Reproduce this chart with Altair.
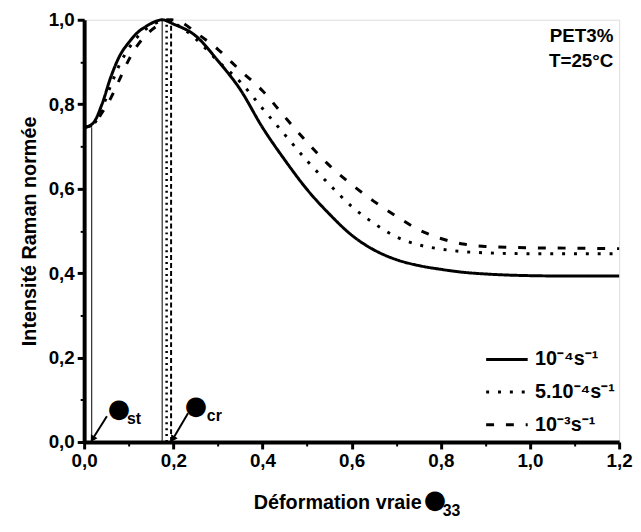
import altair as alt
import pandas as pd

FONT = "Liberation Sans"

# ---- data ----
series_names = ["10⁻⁴s⁻¹", "5.10⁻⁴s⁻¹", "10⁻³s⁻¹"]

s1_x = [0.0, 0.02, 0.04, 0.06, 0.08, 0.10, 0.12, 0.14, 0.16, 0.175, 0.20, 0.25, 0.30, 0.35, 0.40,
        0.45, 0.50, 0.55, 0.60, 0.65, 0.70, 0.75, 0.80, 0.85, 0.90, 1.0, 1.1, 1.2]
s1_y = [0.745, 0.755, 0.80, 0.865, 0.915, 0.946, 0.97, 0.985, 0.996, 1.0, 0.99, 0.962, 0.903, 0.835, 0.745,
        0.668, 0.598, 0.54, 0.49, 0.455, 0.432, 0.418, 0.409, 0.402, 0.398, 0.394, 0.393, 0.393]

s2_x = [0.0, 0.02, 0.04, 0.06, 0.08, 0.10, 0.12, 0.14, 0.16, 0.185, 0.21, 0.25, 0.30, 0.35, 0.40,
        0.45, 0.50, 0.55, 0.60, 0.65, 0.70, 0.75, 0.80, 0.85, 0.90, 1.0, 1.1, 1.2]
s2_y = [0.745, 0.752, 0.79, 0.845, 0.895, 0.932, 0.96, 0.979, 0.992, 1.0, 0.987, 0.955, 0.902, 0.853, 0.79,
        0.728, 0.666, 0.61, 0.558, 0.518, 0.486, 0.467, 0.457, 0.451, 0.448, 0.446, 0.446, 0.446]

s3_x = [0.0, 0.02, 0.04, 0.06, 0.08, 0.10, 0.12, 0.14, 0.16, 0.195, 0.22, 0.25, 0.30, 0.35, 0.40,
        0.45, 0.50, 0.55, 0.60, 0.65, 0.70, 0.75, 0.80, 0.85, 0.90, 1.0, 1.1, 1.2]
s3_y = [0.745, 0.751, 0.78, 0.815, 0.86, 0.905, 0.94, 0.965, 0.983, 1.0, 0.993, 0.97, 0.93, 0.88, 0.832,
        0.77, 0.71, 0.655, 0.61, 0.57, 0.535, 0.503, 0.482, 0.469, 0.463, 0.46, 0.459, 0.458]

# vertical markers (strain at onset / critical strain)
v_solid_x = [0.017, 0.175]
v_solid_top = [0.745, 1.0]
v_dot_x = [0.185]
v_dash_x = [0.195]

# arrows (start -> end)
arrow_x1 = [0.051, 0.233]
arrow_y1 = [0.061, 0.068]
arrow_x2 = [0.020, 0.200]
arrow_y2 = [0.009, 0.009]

# annotation texts
sym_x = [0.078, 0.251]
sym_y = [0.078, 0.086]
sub_text = ["st", "cr"]
sub_x = [0.112, 0.292]
sub_y = [0.054, 0.062]

info_text = ["PET3%", "T=25°C"]
info_x = [1.187, 1.187]
info_y = [0.961, 0.903]

# pieces of the x-axis title drawn after the words (symbol + subscript)
xt_sym_x = [0.787]
xt_sym_y = [-0.138]
xt_sub_text = ["33"]
xt_sub_x = [0.824]
xt_sub_y = [-0.163]

x_ticks = [round(i * 0.1, 1) for i in range(13)]
y_ticks = [round(i * 0.1, 1) for i in range(11)]

# ---- build tables ----
rows = []
for name, xs, ys in zip(series_names, [s1_x, s2_x, s3_x], [s1_y, s2_y, s3_y]):
    for a, b in zip(xs, ys):
        rows.append({"serie": name, "x": a, "y": b})
curves = pd.DataFrame(rows)

vs = pd.DataFrame({"x": v_solid_x, "y": [0.0] * len(v_solid_x), "y2": v_solid_top})
vdot = pd.DataFrame({"x": v_dot_x, "y": [0.0], "y2": [1.0]})
vdash = pd.DataFrame({"x": v_dash_x, "y": [0.0], "y2": [1.0]})
arrows = pd.DataFrame({"x": arrow_x1, "y": arrow_y1, "x2": arrow_x2, "y2": arrow_y2})
heads = pd.DataFrame({"x": arrow_x2, "y": arrow_y2})
syms = pd.DataFrame({"x": sym_x + xt_sym_x, "y": sym_y + xt_sym_y, "t": ["●"] * 3})
subs = pd.DataFrame({"x": sub_x + xt_sub_x, "y": sub_y + xt_sub_y, "t": sub_text + xt_sub_text})
info = pd.DataFrame({"x": info_x, "y": info_y, "t": info_text})

even = "round(datum.value*10) % 2 === 0"
common_axis = dict(
    labelExpr=f"{even} ? replace(format(datum.value, '.1f'), '.', ',') : ''",
    tickSize={"condition": {"test": even, "value": 7}, "value": 4},
    tickWidth={"condition": {"test": even, "value": 3}, "value": 2},
    grid=False,
    labelFontSize=19, labelFont=FONT, labelFontWeight="bold", labelPadding=3,
    titleFontSize=20, titleFont=FONT, titleFontWeight="bold",
    domainWidth=4, domainColor="black", tickColor="black", labelColor="black", titleColor="black",
    labelFlush=False,
)
xaxis = alt.Axis(values=x_ticks, titlePadding=22, titleX=256, titleAnchor="middle", **common_axis)
yaxis = alt.Axis(values=y_ticks, titlePadding=9, **common_axis)
xscale = alt.Scale(domain=[0, 1.2], nice=False, zero=False)
yscale = alt.Scale(domain=[0, 1], nice=False, zero=False)
XT = "Déformation vraie"
YT = "Intensité Raman normée"


def X(f="x"):
    return alt.X(f"{f}:Q", scale=xscale, axis=xaxis, title=XT)


def Y(f="y"):
    return alt.Y(f"{f}:Q", scale=yscale, axis=yaxis, title=YT)


lines = alt.Chart(curves).mark_line(interpolate="monotone", strokeWidth=3, color="black").encode(
    x=X(), y=Y(),
    strokeDash=alt.StrokeDash(
        "serie:N",
        scale=alt.Scale(domain=series_names, range=[[1, 0], [3, 9], [8, 12]]),
        sort=series_names,
        legend=alt.Legend(
            title=None, orient="none", legendX=405, legendY=321,
            symbolType="stroke", symbolSize=1764, symbolStrokeWidth=3, symbolStrokeColor="black",
            labelFont=FONT, labelFontSize=20, labelFontWeight="bold", labelColor="black",
            labelOffset=6, rowPadding=0, symbolOffset=0,
        ),
    ),
)

r_solid = alt.Chart(vs).mark_rule(color="black", strokeWidth=1).encode(x=X(), y=Y(), y2="y2:Q")
r_dot = alt.Chart(vdot).mark_rule(color="black", strokeWidth=2.5, strokeDash=[2, 4]).encode(x=X(), y=Y(), y2="y2:Q")
r_dash = alt.Chart(vdash).mark_rule(color="black", strokeWidth=2, strokeDash=[5, 3]).encode(x=X(), y=Y(), y2="y2:Q")

arrow_lines = alt.Chart(arrows).mark_rule(color="black", strokeWidth=2).encode(
    x=X(), y=Y(), x2="x2:Q", y2="y2:Q")
arrow_heads = alt.Chart(heads).mark_point(shape="triangle", filled=True, color="black", size=60,
                                          opacity=1, angle=211).encode(x=X(), y=Y())

sym_text = alt.Chart(syms).mark_text(font="DejaVu Sans", fontSize=26, color="black").encode(
    x=X(), y=Y(), text="t:N")
sub_textm = alt.Chart(subs).mark_text(font=FONT, fontSize=16, fontWeight="bold", color="black").encode(
    x=X(), y=Y(), text="t:N")
info_textm = alt.Chart(info).mark_text(font=FONT, fontSize=19, fontWeight="bold", color="black",
                                       align="right", baseline="middle").encode(
    x=X(), y=Y(), text="t:N")

chart = alt.layer(
    r_solid, r_dot, r_dash, lines, arrow_lines, arrow_heads, sym_text, sub_textm, info_textm
).properties(
    width=541, height=427,
    autosize="none",
    padding={"left": 77, "top": 9, "right": 14, "bottom": 80},
).configure_view(
    stroke="black", strokeWidth=3.5
).configure(background="white")

chart.save("out.html", embed_options={"renderer": "svg", "actions": False})
